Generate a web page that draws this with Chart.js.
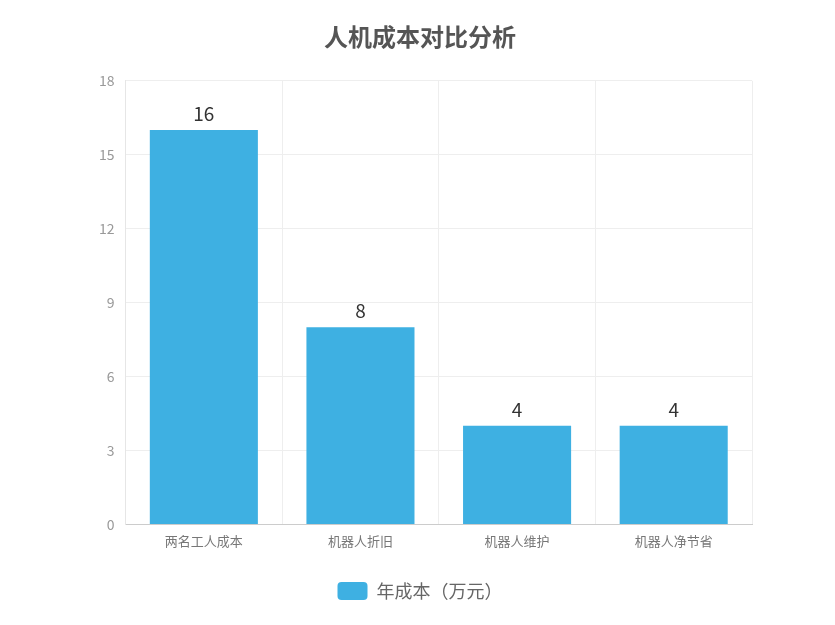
<!DOCTYPE html>
<html>
<head>
<meta charset="utf-8">
<script src="https://cdn.jsdelivr.net/npm/chart.js@4"></script>
<style>
  html, body { margin: 0; padding: 0; background: #fff; }
  #wrap { width: 835px; height: 625px; }
</style>
</head>
<body>
<div id="wrap"><canvas id="barChart"></canvas></div>
<script>
const categories = ['两名工人成本', '机器人折旧', '机器人维护', '机器人净节省'];
const costValues = [16, 8, 4, 4];
const seriesName = '年成本（万元）';
const yTicks = [0, 3, 6, 9, 12, 15, 18];

const FONT = '"Noto Sans CJK SC", "Noto Sans", sans-serif';

// draw value labels above each bar
const valueLabels = {
  id: 'valueLabels',
  afterDatasetsDraw(chart) {
    const ctx = chart.ctx;
    ctx.save();
    ctx.font = '19px ' + FONT;
    ctx.fillStyle = '#333';
    ctx.textAlign = 'center';
    ctx.textBaseline = 'bottom';
    chart.getDatasetMeta(0).data.forEach((bar, i) => {
      ctx.fillText(costValues[i], bar.x, bar.y - 7);
    });
    ctx.restore();
  }
};

const ctx = document.getElementById('barChart').getContext('2d');
new Chart(ctx, {
  type: 'bar',
  data: {
    labels: categories,
    datasets: [{
      label: seriesName,
      data: costValues,
      backgroundColor: '#3eb0e2',
      borderWidth: 0,
      barPercentage: 0.69,
      categoryPercentage: 1.0,
    }],
  },
  options: {
    responsive: true,
    maintainAspectRatio: false,
    animation: false,
    layout: { padding: { left: 88, right: 83, top: 0, bottom: 15 } },
    plugins: {
      title: {
        display: true,
        text: '人机成本对比分析',
        color: '#555',
        font: { family: FONT, size: 24, weight: 'bold' },
        padding: { top: 22, bottom: 30 },
      },
      legend: {
        position: 'bottom',
        labels: {
          color: '#666',
          font: { family: FONT, size: 18 },
          boxWidth: 30,
          boxHeight: 18,
          useBorderRadius: true,
          borderRadius: 4,
          padding: 24,
        },
      },
      tooltip: { enabled: false },
    },
    scales: {
      x: {
        grid: { color: '#eeeeee', offset: true, drawTicks: false },
        border: { color: '#cccccc' },
        ticks: { color: '#777', font: { family: FONT, size: 13 }, padding: 9 },
      },
      y: {
        min: 0,
        max: 18,
        afterBuildTicks(axis) { axis.ticks = yTicks.map(v => ({ value: v })); },
        grid: { color: '#eeeeee', drawTicks: false },
        border: { color: '#e6e6e6' },
        ticks: { color: '#999', font: { family: FONT, size: 14 }, padding: 11 },
      },
    },
  },
  plugins: [valueLabels],
});
</script>
</body>
</html>
